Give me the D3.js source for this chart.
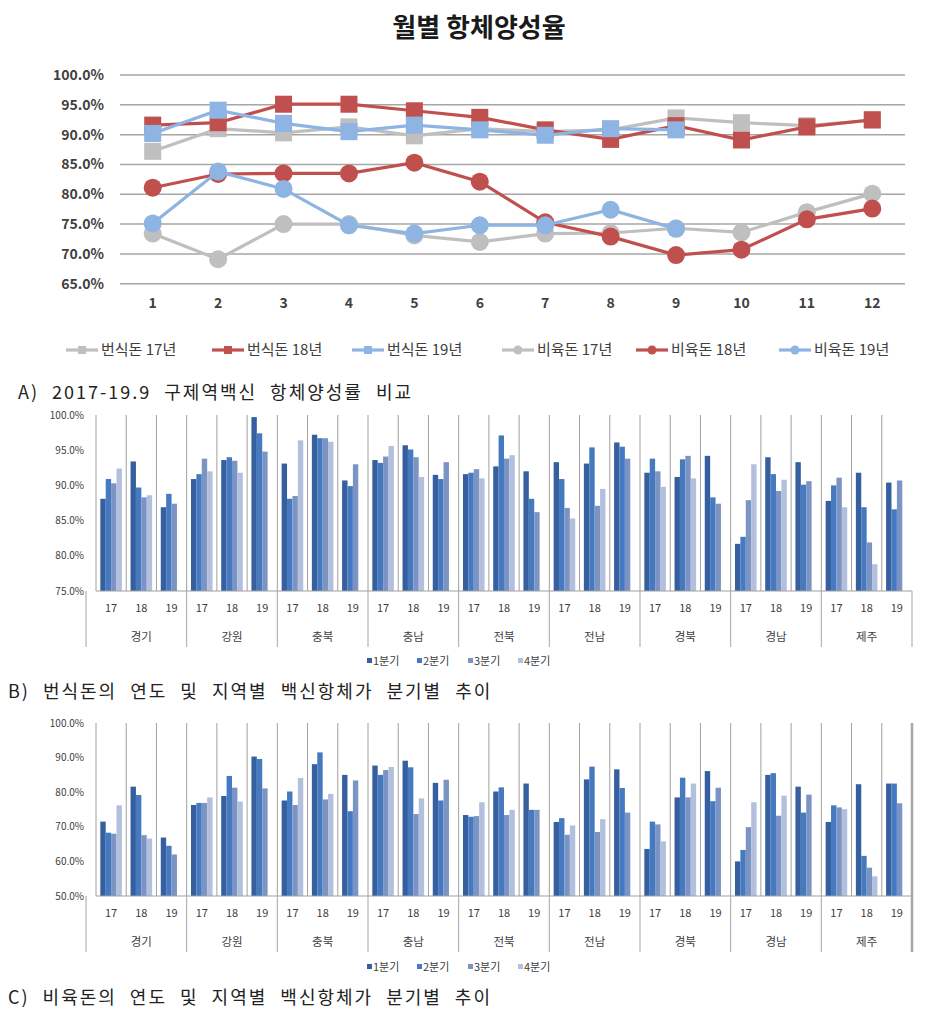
<!DOCTYPE html>
<html><head><meta charset="utf-8">
<script src="https://cdn.jsdelivr.net/npm/d3@7"></script>
<style>
html,body{margin:0;padding:0;background:#fff;}
svg{display:block;font-family:"Noto Sans CJK KR","Noto Sans",sans-serif;}
</style></head>
<body>
<svg id="c" width="943" height="1021"></svg>
<script>
// ---------- Data: panel A (monthly antibody positive rate) ----------
const months = ["1","2","3","4","5","6","7","8","9","10","11","12"];
const sow17 = [87.2, 91.0, 90.3, 91.3, 89.8, 91.0, 90.5, 90.8, 92.8, 92.0, 91.5, 92.4];
const sow18 = [91.6, 92.0, 95.1, 95.1, 94.0, 92.9, 90.8, 89.2, 91.5, 89.1, 91.3, 92.5];
const sow19 = [90.2, 94.1, 91.9, 90.5, 91.6, 90.8, 89.9, 91.0, 90.8, null, null, null];
const fin17 = [73.4, 69.1, 75.0, 75.0, 73.1, 72.0, 73.4, 73.5, 74.3, 73.6, 77.0, 80.1];
const fin18 = [81.1, 83.4, 83.5, 83.5, 85.3, 82.1, 75.3, 72.9, 69.8, 70.7, 75.8, 77.6];
const fin19 = [75.1, 83.8, 80.9, 74.8, 73.4, 74.8, 74.8, 77.4, 74.2, null, null, null];
const lineNames = ["번식돈 17년","번식돈 18년","번식돈 19년","비육돈 17년","비육돈 18년","비육돈 19년"];
const lineTicks = [65, 70, 75, 80, 85, 90, 95, 100];

// ---------- Data: panels B & C (region x year, by quarter) ----------
const regions = ["경기","강원","충북","충남","전북","전남","경북","경남","제주"];
const years = ["17","18","19"];
const quarters = ["1분기","2분기","3분기","4분기"];
const sowQ1 = [88.1, 93.4, 86.9, 90.9, 93.6, 99.7, 93.1, 97.2, 90.7, 93.6, 95.7, 91.5, 91.6, 92.7, 92.0, 93.3, 93.1, 96.1, 91.8, 91.2, 94.2, 81.7, 94.0, 93.3, 87.8, 91.8, 90.4];
const sowQ2 = [90.9, 89.7, 88.8, 91.6, 94.0, 97.4, 88.1, 96.7, 89.9, 93.2, 95.1, 90.9, 91.8, 97.1, 88.1, 90.9, 95.4, 95.5, 93.8, 93.7, 88.3, 82.7, 91.6, 90.1, 90.0, 86.9, 86.6];
const sowQ3 = [90.3, 88.3, 87.4, 93.8, 93.5, 94.8, 88.5, 96.7, 93.0, 94.1, 94.0, 93.3, 92.3, 93.8, 86.2, 86.8, 87.1, 93.8, 92.0, 94.2, 87.4, 87.9, 89.2, 90.6, 91.1, 81.9, 90.7];
const sowQ4 = [92.4, 88.6, null, 92.0, 91.8, null, 96.4, 96.2, null, 95.6, 91.2, null, 91.0, 94.3, null, 85.3, 89.5, null, 89.8, 91.0, null, 93.0, 90.8, null, 86.9, 78.8, null];
const finQ1 = [71.5, 81.6, 66.9, 76.3, 78.9, 90.3, 77.6, 88.1, 85.0, 87.7, 89.1, 82.7, 73.4, 80.2, 82.5, 71.4, 83.7, 86.6, 63.6, 78.5, 86.1, 60.0, 85.0, 81.6, 71.4, 82.3, 82.5];
const finQ2 = [68.3, 79.2, 64.5, 76.9, 84.7, 89.6, 80.2, 91.5, 74.5, 85.0, 87.2, 77.6, 72.9, 81.4, 74.9, 72.5, 87.4, 81.2, 71.5, 84.2, 77.4, 63.3, 85.5, 74.1, 76.2, 61.6, 82.5];
const finQ3 = [68.0, 67.6, 62.0, 76.9, 81.3, 81.1, 76.3, 77.9, 83.4, 86.4, 73.7, 83.6, 73.1, 73.4, 74.9, 67.7, 68.5, 74.1, 70.7, 78.5, 81.3, 69.9, 73.2, 79.3, 75.6, 58.2, 76.8];
const finQ4 = [76.2, 66.6, null, 78.5, 77.3, null, 84.1, 79.5, null, 87.3, 78.2, null, 77.1, 74.9, null, 70.4, 72.2, null, 65.8, 82.5, null, 77.1, 79.0, null, 75.1, 55.7, null];
const sowTicks = [75, 80, 85, 90, 95, 100];
const finTicks = [50, 60, 70, 80, 90, 100];

// ---------- Drawing ----------
const svg = d3.select("#c");
const fmt = v => v.toFixed(1) + "%";

// Title
svg.append("text").attr("x", 479).attr("y", 37).attr("text-anchor", "middle")
  .attr("font-size", 26).attr("font-weight", "bold").attr("fill", "#1a1a1a").text("월별 항체양성율");

// Panel A
const xA = d3.scaleBand().domain(months).range([120, 905]);
const yA = d3.scaleLinear().domain([65, 100]).range([283.7, 75]);
const gA = svg.append("g");
gA.selectAll("line.grid").data(lineTicks).join("line")
  .attr("x1", 120).attr("x2", 905).attr("y1", d => yA(d)).attr("y2", d => yA(d))
  .attr("stroke", "#a6a6a6").attr("stroke-width", 1.5);
gA.selectAll("text.yt").data(lineTicks).join("text")
  .attr("x", 104).attr("y", d => yA(d)).attr("dy", "0.35em").attr("text-anchor", "end")
  .attr("font-size", 14).attr("font-weight", "bold").attr("fill", "#404040").text(fmt);
gA.selectAll("text.xt").data(months).join("text")
  .attr("x", d => xA(d) + xA.bandwidth() / 2).attr("y", 308).attr("text-anchor", "middle")
  .attr("font-size", 14).attr("font-weight", "bold").attr("fill", "#404040").text(d => d);

const lineSeries = [
  {vals: sow17, color: "#bfbfbf", shape: "sq"},
  {vals: sow18, color: "#c0504d", shape: "sq"},
  {vals: sow19, color: "#8db4e2", shape: "sq"},
  {vals: fin17, color: "#bfbfbf", shape: "ci"},
  {vals: fin18, color: "#c0504d", shape: "ci"},
  {vals: fin19, color: "#8db4e2", shape: "ci"}
];
const cx = i => xA(months[i]) + xA.bandwidth() / 2;
const lineGen = d3.line().defined(d => d != null).x((d, i) => cx(i)).y(d => yA(d));
lineSeries.forEach(s => {
  const g = gA.append("g");
  g.append("path").attr("d", lineGen(s.vals)).attr("fill", "none")
    .attr("stroke", s.color).attr("stroke-width", 3.2);
  const pts = s.vals.map((v, i) => ({v, i})).filter(d => d.v != null);
  if (s.shape === "sq") {
    g.selectAll("rect").data(pts).join("rect")
      .attr("x", d => cx(d.i) - 8.5).attr("y", d => yA(d.v) - 8.5)
      .attr("width", 17).attr("height", 17).attr("fill", s.color);
  } else {
    g.selectAll("circle").data(pts).join("circle")
      .attr("cx", d => cx(d.i)).attr("cy", d => yA(d.v)).attr("r", 9).attr("fill", s.color);
  }
});

// Legend A
const legX = [66, 212, 352, 502, 636, 779];
lineSeries.forEach((s, i) => {
  const g = svg.append("g").attr("transform", `translate(${legX[i]},350)`);
  g.append("line").attr("x1", 0).attr("x2", 32).attr("y1", 0).attr("y2", 0)
    .attr("stroke", s.color).attr("stroke-width", 3.2);
  if (s.shape === "sq") g.append("rect").attr("x", 12).attr("y", -4).attr("width", 8).attr("height", 8).attr("fill", s.color);
  else g.append("circle").attr("cx", 16).attr("cy", 0).attr("r", 4.5).attr("fill", s.color);
  g.append("text").attr("x", 35).attr("y", 0).attr("dy", "0.35em").attr("font-size", 15)
    .attr("fill", "#404040").text(lineNames[i]);
});

// Captions
function caption(txt, x, y) {
  svg.append("text").attr("x", x).attr("y", y).attr("font-size", 18).attr("fill", "#222")
    .attr("letter-spacing", 2).attr("word-spacing", 7).text(txt);
}
caption("A) 2017-19.9 구제역백신 항체양성률 비교", 18, 399);
caption("B) 번식돈의 연도 및 지역별 백신항체가 분기별 추이", 8, 698);
caption("C) 비육돈의 연도 및 지역별 백신항체가 분기별 추이", 8, 1004);

// Bar panels
const subcats = [];
regions.forEach(r => years.forEach(y => subcats.push(r + "-" + y)));
const qColors = ["#365f9f", "#4579c0", "#7c94c4", "#b2c0de"];

function barPanel(cfg) {
  const g = svg.append("g");
  const x = d3.scaleBand().domain(subcats).range([96, 912]);
  const xq = d3.scaleBand().domain(quarters).range([0, x.bandwidth()]).paddingInner(0).paddingOuter(0.8);
  const y = d3.scaleLinear().domain(cfg.domain).range([cfg.bottom, cfg.top]);
  const series = cfg.series;
  series.forEach((arr, qi) => {
    g.append("g").selectAll("rect").data(arr.map((v, i) => ({v, i})).filter(d => d.v != null)).join("rect")
      .attr("x", d => x(subcats[d.i]) + xq(quarters[qi]))
      .attr("y", d => y(d.v)).attr("width", xq.bandwidth())
      .attr("height", d => y(cfg.domain[0]) - y(d.v)).attr("fill", qColors[qi]);
  });
  g.selectAll("line.sep").data(subcats).join("line")
    .attr("x1", d => x(d)).attr("x2", d => x(d)).attr("y1", cfg.top).attr("y2", cfg.bottom)
    .attr("stroke", "#a0a0a0").attr("stroke-width", 1);
  if (cfg.rightBorder) {
    g.append("line").attr("x1", 912).attr("x2", 912).attr("y1", cfg.top).attr("y2", cfg.labBottom)
      .attr("stroke", "#a6a6a6").attr("stroke-width", 2.5);
  }
  g.append("line").attr("x1", 96).attr("x2", 912).attr("y1", cfg.bottom).attr("y2", cfg.bottom)
    .attr("stroke", "#a0a0a0").attr("stroke-width", 1.2);
  const regionEdges = regions.map(r => x(r + "-17")).slice(1).concat([86, 912]);
  g.selectAll("line.rsep").data(regionEdges).join("line")
    .attr("x1", d => d).attr("x2", d => d).attr("y1", cfg.bottom).attr("y2", cfg.labBottom)
    .attr("stroke", "#a6a6a6").attr("stroke-width", 1);
  g.selectAll("text.yt").data(cfg.ticks).join("text")
    .attr("x", 84).attr("y", d => y(d)).attr("dy", "0.35em").attr("text-anchor", "end")
    .attr("font-size", 10).attr("fill", "#404040").text(fmt);
  g.selectAll("text.yr").data(subcats).join("text")
    .attr("x", d => x(d) + x.bandwidth() / 2).attr("y", cfg.bottom + 17).attr("dy", "0.35em")
    .attr("text-anchor", "middle").attr("font-size", 11).attr("fill", "#404040")
    .text(d => d.split("-")[1]);
  g.selectAll("text.rg").data(regions).join("text")
    .attr("x", d => x(d + "-18") + x.bandwidth() / 2).attr("y", cfg.bottom + 46).attr("dy", "0.35em")
    .attr("text-anchor", "middle").attr("font-size", 11.5).attr("fill", "#404040").text(d => d);
  const lx = [367, 417, 468, 518];
  quarters.forEach((q, i) => {
    svg.append("rect").attr("x", lx[i]).attr("y", cfg.legendY - 3).attr("width", 5).attr("height", 5).attr("fill", qColors[i]);
    svg.append("text").attr("x", lx[i] + 6).attr("y", cfg.legendY).attr("dy", "0.35em")
      .attr("font-size", 11).attr("fill", "#404040").text(q);
  });
}

barPanel({domain: [75, 100], top: 415, bottom: 591, labBottom: 647, ticks: sowTicks,
  series: [sowQ1, sowQ2, sowQ3, sowQ4], legendY: 661, rightBorder: false});
barPanel({domain: [50, 100], top: 723, bottom: 896, labBottom: 952, ticks: finTicks,
  series: [finQ1, finQ2, finQ3, finQ4], legendY: 967, rightBorder: true});
</script>
</body></html>
